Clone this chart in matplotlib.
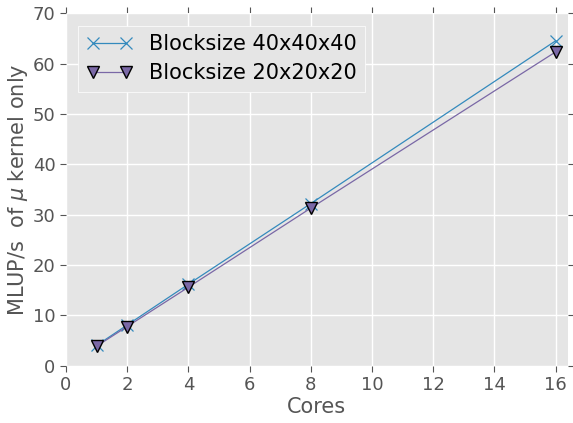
import matplotlib
matplotlib.use('Agg')
import matplotlib.pyplot as plt

# cores vs MLUP/s for the two block sizes
cores = [1, 2, 4, 8, 16]
mlups_40 = [4.05, 8.1, 16.2, 32.2, 64.5]
mlups_20 = [3.9, 7.8, 15.6, 31.3, 62.3]

plt.style.use('ggplot')
plt.rcParams['font.family'] = 'DejaVu Sans'

fig = plt.figure(figsize=(5.73, 4.23), dpi=100)
ax = fig.add_axes([0.115, 0.135, 0.876, 0.834])
ax.set_facecolor('#E5E5E5')
ax.grid(True, color='white', linewidth=1.0)
ax.set_axisbelow(True)
for s in ax.spines.values():
    s.set_visible(False)

ax.plot(cores, mlups_40, '-x', color='#348ABD', markersize=9, linewidth=0.9,
        markeredgewidth=0.9, label='Blocksize 40x40x40')
ax.plot(cores, mlups_20, '-v', color='#7A68A6', markersize=9, linewidth=0.9,
        markerfacecolor='#7A68A6', markeredgecolor='black', markeredgewidth=1,
        label='Blocksize 20x20x20')

ax.set_xlim(0, 16.4)
ax.set_ylim(0, 70)
ax.set_xticks(range(0, 17, 2))
ax.set_yticks(range(0, 71, 10))
ax.tick_params(direction='out', colors='#555555', labelsize=13, length=4,
               top=True, right=True, labeltop=False, labelright=False)
ax.set_xlabel('Cores', fontsize=15, color='#555555', labelpad=2)
ax.set_ylabel(r'MLUP/s  of $\mu$ kernel only', fontsize=15, color='#555555', labelpad=2)

leg = ax.legend(loc='upper left', numpoints=2, fontsize=15, fancybox=False,
                facecolor='#E5E5E5', edgecolor='white', framealpha=1,
                borderaxespad=0.6, labelspacing=0.45, handlelength=2.2)
for t in leg.get_texts():
    t.set_color('black')

fig.savefig('out.png', dpi=100, facecolor='white')
